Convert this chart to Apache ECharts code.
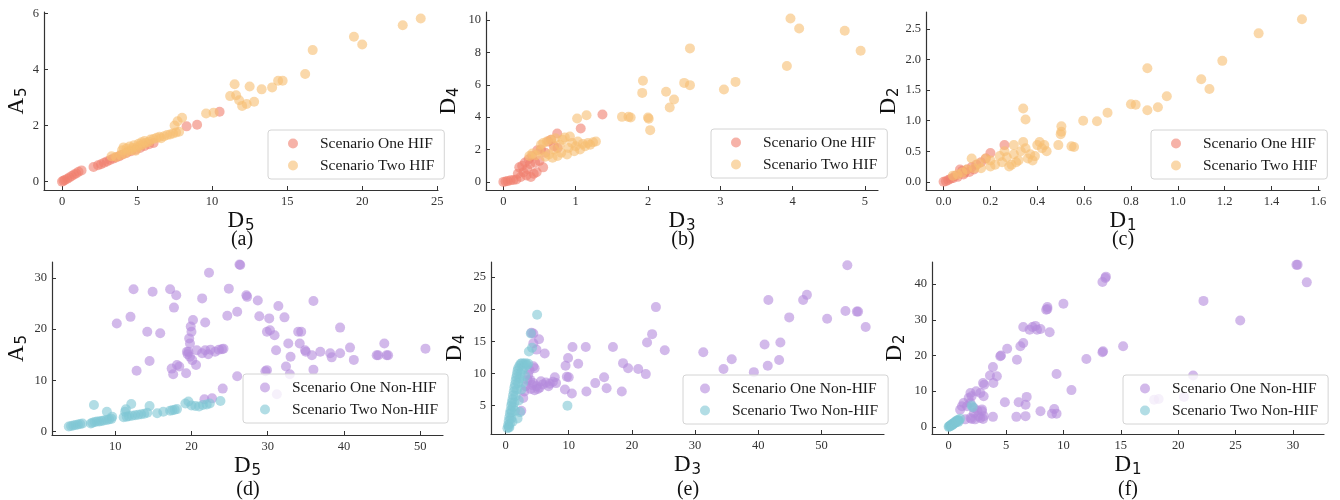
<!DOCTYPE html>
<html>
<head>
<meta charset="utf-8">
<script src="https://cdn.jsdelivr.net/npm/echarts@6/dist/echarts.min.js"></script>
<style>
  html, body { margin: 0; padding: 0; background: #fff; }
  #chart { width: 1340px; height: 500px; }
</style>
</head>
<body>
<div id="chart"></div>
<script>
// ---- data: [x, y] pairs per scenario ----

// (a) D5 vs A5, HIF
const aOneHIF = [[0,0],[0.1,0.03],[0.2,0.06],[0.35,0.1],[0.5,0.15],[0.65,0.2],[0.8,0.25],[0.95,0.29],[1.1,0.35],[1.3,0.4],
  [2.1,0.52],[2.4,0.58],[2.6,0.62],[2.8,0.67],[3.0,0.72],[3.2,0.77],[3.4,0.82],[3.6,0.86],[3.8,0.9],[4.0,0.96],
  [4.3,1.02],[4.6,1.08],[4.9,1.14],[5.2,1.2],[5.5,1.27],[5.8,1.33],[6.1,1.38],[8.3,1.97],[9.0,2.03],[10.5,2.49]];
const aTwoHIF = [[3.3,0.9],[3.6,0.88],[3.9,0.95],[4.0,1.12],[4.1,1.22],[4.2,1.0],[4.3,1.18],[4.4,1.08],[4.5,1.25],[4.6,1.12],
  [4.7,1.2],[4.8,1.3],[4.9,1.1],[5.0,1.22],[5.1,1.35],[5.2,1.28],[5.3,1.4],[5.4,1.32],[5.5,1.45],[5.6,1.38],
  [5.8,1.42],[5.9,1.5],[6.1,1.52],[6.3,1.56],[6.5,1.6],[6.6,1.55],[6.8,1.62],[7.0,1.66],[7.2,1.68],[7.4,1.72],
  [7.6,1.75],[7.8,1.78],[7.5,2.0],[7.7,2.15],[8.0,2.28],[9.6,2.43],[10.1,2.46],
  [11.2,3.05],[11.5,3.47],[11.6,3.08],[11.8,2.9],[12.0,2.7],[12.3,2.77],[12.5,3.39],[12.8,2.85],[13.3,3.29],
  [14.0,3.36],[14.4,3.6],[14.7,3.6],[16.2,3.84],[16.7,4.69],[19.45,5.17],[20.0,4.89],[22.7,5.58],[23.9,5.82]];

// (b) D3 vs D4, HIF
const bOneHIF = [[0,0],[0.03,0.02],[0.06,0.05],[0.1,0.1],[0.14,0.12],[0.18,0.15],[0.2,0.5],[0.22,0.9],[0.24,0.3],[0.26,1.0],
  [0.28,0.6],[0.3,1.2],[0.32,0.4],[0.33,0.8],[0.35,1.4],[0.37,1.1],[0.38,0.3],[0.4,1.6],[0.42,0.5],[0.44,1.2],
  [0.46,0.6],[0.47,1.96],[0.5,1.3],[0.52,2.0],[0.55,0.9],[0.58,1.8],[0.62,2.5],[0.66,2.6],[0.7,2.2],[0.745,2.99],
  [0.75,2.1],[1.07,3.3],[1.37,4.17]];
const bTwoHIF = [[0.36,1.6],[0.4,1.75],[0.45,1.65],[0.5,1.9],[0.52,2.3],[0.55,2.4],[0.58,1.55],[0.6,2.5],[0.63,1.7],[0.66,2.6],
  [0.68,1.5],[0.7,2.0],[0.72,2.7],[0.75,1.6],[0.78,2.3],[0.8,1.8],[0.82,2.6],[0.85,2.75],[0.88,1.7],[0.9,2.1],
  [0.92,2.8],[0.95,2.4],[0.98,1.9],[1.0,2.2],[1.03,2.5],[1.06,2.0],[1.1,2.35],[1.13,2.2],[1.17,2.4],[1.2,2.3],
  [1.24,2.45],[1.28,2.5],[1.02,3.92],[1.15,4.12],
  [1.64,4.02],[1.73,4.02],[1.76,3.98],[1.92,5.5],[1.93,6.25],[2.0,3.98],[2.01,3.9],[2.03,3.2],[2.25,5.57],[2.3,4.6],
  [2.36,5.09],[2.5,6.12],[2.58,5.98],[2.58,8.25],[3.05,5.71],[3.21,6.18],[3.92,7.16],[3.97,10.1],[4.09,9.48],[4.72,9.34],[4.94,8.1]];

// (c) D1 vs D2, HIF
const cOneHIF = [[0,0],[0.01,0.01],[0.02,0.03],[0.03,0.05],[0.04,0.06],[0.05,0.1],[0.06,0.08],[0.07,0.2],[0.08,0.18],[0.085,0.12],
  [0.09,0.15],[0.1,0.2],[0.11,0.16],[0.12,0.24],[0.13,0.2],[0.14,0.28],[0.16,0.32],[0.18,0.38],[0.2,0.47],[0.26,0.6]];
const cTwoHIF = [[0.04,0.1],[0.06,0.12],[0.08,0.15],[0.1,0.2],[0.12,0.38],[0.13,0.22],[0.15,0.3],[0.16,0.22],[0.18,0.38],[0.2,0.35],
  [0.2,0.25],[0.22,0.28],[0.24,0.42],[0.25,0.32],[0.26,0.5],[0.27,0.4],[0.28,0.25],[0.29,0.28],[0.3,0.45],[0.3,0.6],
  [0.31,0.32],[0.32,0.35],[0.33,0.5],[0.34,0.65],[0.35,0.55],[0.36,0.38],[0.37,0.45],[0.38,0.35],[0.39,0.42],[0.4,0.6],
  [0.41,0.65],[0.42,0.55],[0.43,0.6],[0.44,0.5],
  [0.34,1.2],[0.35,1.02],[0.49,0.6],[0.5,0.78],[0.503,0.82],[0.503,0.91],[0.546,0.58],[0.557,0.57],[0.596,1.0],[0.655,0.99],
  [0.7,1.13],[0.8,1.27],[0.82,1.26],[0.87,1.17],[0.87,1.86],[0.915,1.22],[0.953,1.4],[1.1,1.68],[1.135,1.52],[1.19,1.98],
  [1.345,2.43],[1.53,2.66]];

// (d) D5 vs A5, Non-HIF
const dOneNon = [[26.4,32.5],[26.3,32.6],[22.3,31.0],[12.4,27.8],[14.9,27.3],[17.2,27.8],[18.0,26.6],[17.7,24.2],[21.4,26.0],[24.9,27.9],
  [27.2,26.6],[27.3,26.3],[28.7,25.6],[26.0,23.4],[24.7,22.6],[28.9,22.5],[30.2,22.1],[31.4,24.5],[32.2,22.3],[36.0,25.5],
  [10.2,21.1],[12.0,22.4],[14.2,19.5],[15.9,19.2],[20.2,21.8],[21.8,21.3],[19.9,20.5],[20.0,19.5],[19.7,18.2],[19.8,17.2],
  [19.6,15.6],[19.5,15.1],[19.8,14.6],[20.1,13.96],[20.6,13.0],[19.4,15.6],[20.7,15.9],[21.4,15.3],[21.8,15.9],[22.2,15.1],
  [22.5,16.0],[23.1,15.6],[23.6,16.0],[24.0,16.1],[24.2,16.2],[12.8,11.9],[14.5,13.8],[17.4,12.3],[18.1,13.0],[18.4,12.7],
  [17.6,11.2],[19.3,11.4],[26.0,10.8],[24.1,8.4],[21.7,6.3],[22.7,6.5],[29.7,11.8],[29.9,12.0],[29.9,19.5],[30.3,19.8],
  [30.9,18.8],[31.1,15.9],[32.7,17.2],[33.0,14.6],[32.4,12.7],[32.9,11.2],[34.0,19.5],[34.4,19.5],[34.2,17.2],[34.9,15.9],
  [35.0,15.6],[35.8,14.9],[36.0,12.1],[36.9,15.6],[38.2,15.3],[38.4,14.5],[39.5,15.3],[39.5,20.3],[40.8,16.4],[41.3,14.0],
  [44.3,14.9],[44.5,14.9],[45.3,17.2],[45.6,14.9],[45.8,14.9],[50.7,16.2],[31.2,7.3]];
const dTwoNon = [[3.9,1.0],[4.2,1.1],[4.5,1.2],[4.8,1.3],[5.1,1.4],[5.4,1.5],[5.7,1.6],[6.8,1.6],[7.0,1.75],[7.2,5.2],
  [7.3,1.9],[7.6,2.0],[7.9,2.0],[8.2,2.1],[8.5,2.2],[8.9,3.9],[8.9,2.3],[9.2,2.4],[9.5,2.5],[9.6,2.9],
  [11.1,2.8],[11.3,3.9],[11.4,4.35],[11.5,2.9],[11.8,3.0],[12.1,5.4],[12.2,3.1],[12.6,3.2],[13.0,3.3],[13.4,3.4],
  [13.8,3.5],[14.2,3.7],[14.5,5.0],[15.5,3.6],[16.3,3.9],[17.2,4.1],[17.5,4.2],[17.8,4.3],[18.1,4.4],[19.2,5.5],
  [19.6,5.9],[20.0,5.1],[20.5,5.0],[21.0,4.9],[21.5,5.2],[22.0,5.3],[22.4,5.5],[23.8,6.0]];

// (e) D3 vs D4, Non-HIF
const eOneNon = [[54.1,26.8],[23.8,20.3],[47.1,21.4],[47.7,22.2],[41.6,21.4],[44.9,18.7],[50.9,18.5],[53.8,19.7],[55.6,19.6],[55.8,19.6],
  [57.0,17.2],[41.0,14.5],[43.5,14.8],[43.3,12.1],[41.5,11.2],[39.3,10.2],[35.8,12.2],[34.5,10.7],[31.3,13.3],[25.2,13.6],
  [23.2,16.1],[22.4,14.8],[22.2,9.9],[21.0,10.7],[19.4,10.8],[18.6,11.6],[17.0,14.1],[18.4,7.2],[16.0,7.7],[15.6,9.4],
  [14.2,8.5],[12.7,14.1],[12.8,7.2],[11.5,11.5],[10.6,14.1],[10.5,6.9],[9.9,12.4],[9.5,11.2],[9.7,9.5],[10.0,9.4],
  [9.4,7.5],[7.8,9.4],[8.0,8.5],[3.9,9.0],[4.4,8.5],[4.9,8.0],[5.4,7.8],[5.9,8.3],[6.4,8.6],[7.0,8.4],
  [4.0,7.6],[4.6,7.4],[5.1,7.6],[3.6,9.8],[5.3,15.3],[4.9,13.7],[6.2,13.1],[4.4,16.2],[4.1,16.3],[4.4,14.7],
  [4.4,11.1],[4.6,10.8],[3.8,10.5],[3.5,9.0],[3.2,8.0],[4.2,8.2],[3.0,7.2],[2.8,6.2],[2.5,4.2],[6.8,8.0],
  [7.5,8.7],[5.6,8.8]];
const eTwoNon = [[0.3,1.5],[0.4,2.0],[0.5,1.7],[0.5,2.6],[0.6,3.2],[0.7,2.2],[0.7,3.8],[0.8,4.3],[0.9,3.0],[0.9,5.0],
  [1.0,4.0],[1.0,5.5],[1.1,6.0],[1.2,4.8],[1.2,6.6],[1.3,7.2],[1.4,5.5],[1.4,7.8],[1.5,8.3],[1.6,6.5],
  [1.6,8.9],[1.7,9.4],[1.8,7.5],[1.8,9.9],[1.9,10.4],[2.0,8.5],[2.0,10.8],[2.2,11.2],[2.2,9.2],[2.4,11.5],
  [2.4,10.0],[2.6,11.6],[2.7,10.6],[2.9,11.5],[3.0,11.0],[3.2,11.6],[3.4,11.3],[3.6,11.5],[2.1,5.8],[1.5,4.2],
  [2.5,7.5],[2.8,8.6],[3.1,9.6],[2.3,4.0],[1.9,3.0],[1.1,2.5],[0.6,1.6],[3.7,13.4],[4.0,16.2],[4.2,14.0],
  [5.0,19.1],[9.8,5.0]];

// (f) D1 vs D2, Non-HIF
const fOneNon = [[30.3,45.4],[30.4,45.4],[31.2,40.5],[13.7,42.1],[13.65,41.7],[13.4,40.6],[10.0,34.5],[8.6,33.6],[8.6,33.0],[8.5,32.8],
  [22.2,35.3],[25.4,29.8],[6.5,28.0],[7.3,28.0],[7.55,28.3],[7.7,27.2],[7.05,27.2],[8.0,27.4],[8.8,26.5],[6.5,23.5],
  [6.25,22.6],[5.1,21.9],[4.56,20.0],[4.5,19.8],[5.95,18.8],[3.86,16.8],[3.6,14.4],[4.2,14.2],[3.9,12.3],[3.0,12.3],
  [3.1,11.8],[2.4,10.0],[2.76,9.5],[3.05,8.6],[1.9,9.5],[2.0,8.6],[1.74,8.1],[1.3,6.7],[1.0,4.8],[1.16,5.8],
  [1.6,5.8],[1.9,6.7],[2.2,5.3],[2.9,4.4],[2.76,2.5],[2.3,2.1],[2.6,3.0],[3.05,3.0],[2.2,3.9],[1.9,2.5],
  [1.45,2.1],[3.86,2.8],[4.9,6.9],[5.9,2.8],[6.1,6.9],[6.7,6.2],[6.8,8.4],[6.7,3.0],[8.0,4.4],[9.0,3.7],
  [9.4,3.7],[9.2,5.0],[9.4,14.8],[10.7,10.3],[12.0,19.0],[13.4,20.9],[13.45,21.2],[15.2,22.6],[21.3,14.4],[17.9,7.6],
  [18.3,7.8],[20.5,8.4],[2.9,4.9],[2.5,4.6],[3.0,2.2],[2.0,2.2]];
const fTwoNon = [[0,0],[0.05,0.1],[0.1,0.3],[0.15,0.2],[0.2,0.5],[0.25,0.4],[0.3,0.8],[0.35,0.6],[0.4,1.0],[0.45,0.9],
  [0.5,1.2],[0.55,1.1],[0.6,1.5],[0.65,1.3],[0.7,1.7],[0.75,1.5],[0.8,1.9],[0.9,1.8],[1.0,2.3],[0.85,1.4],
  [2.0,6.0],[2.1,5.5]];

// tick values per panel
const aXTicks = [0, 5, 10, 15, 20, 25], aYTicks = [0, 2, 4, 6];
const bXTicks = [0, 1, 2, 3, 4, 5], bYTicks = [0, 2, 4, 6, 8, 10];
const cXTicks = [0, 0.2, 0.4, 0.6, 0.8, 1.0, 1.2, 1.4, 1.6], cYTicks = [0, 0.5, 1.0, 1.5, 2.0, 2.5];
const dXTicks = [10, 20, 30, 40, 50], dYTicks = [0, 10, 20, 30];
const eXTicks = [0, 10, 20, 30, 40, 50], eYTicks = [5, 10, 15, 20, 25];
const fXTicks = [0, 5, 10, 15, 20, 25, 30], fYTicks = [0, 10, 20, 30, 40];

const SERIF = '"Liberation Serif", "Times New Roman", serif';
const axisColor = '#333';
const colors = {
  'Scenario One HIF': '#F07F6E',
  'Scenario Two HIF': '#F7BE72',
  'Scenario One Non-HIF': '#B48BDC',
  'Scenario Two Non-HIF': '#7FC6D3'
};

const nameRich = {
  m: { fontFamily: SERIF, fontSize: 23, color: '#111', lineHeight: 24, verticalAlign: 'top' },
  s: { fontFamily: 'DejaVu Sans', fontSize: 15, color: '#111', lineHeight: 15, padding: [10, 0, 0, 1], verticalAlign: 'top' }
};

function sub(letter, digit) {
  return '{m|' + letter + '}{s|' + digit + '}';
}

// panel layout: grid box in px, axis ranges from the figure
const panels = [
  { grid: [44, 12, 394, 178], x: [-1.2, 25.05], y: [-0.3, 6.05], xt: aXTicks, yt: aYTicks, dec: 0,
    xn: sub('D', 5), yn: sub('A', 5), ygap: 15, legend: [268, 130, 20], cap: '(a)', cx: 242, cy: 240,
    s: [['Scenario One HIF', aOneHIF], ['Scenario Two HIF', aTwoHIF]] },
  { grid: [486, 12, 392, 178], x: [-0.24, 5.18], y: [-0.5, 10.5], xt: bXTicks, yt: bYTicks, dec: 0,
    xn: sub('D', 3), yn: sub('D', 4), ygap: 25, legend: [711, 129, 20], cap: '(b)', cx: 683, cy: 240,
    s: [['Scenario One HIF', bOneHIF], ['Scenario Two HIF', bTwoHIF]] },
  { grid: [926, 12, 394, 178], x: [-0.075, 1.607], y: [-0.135, 2.78], xt: cXTicks, yt: cYTicks, dec: 1,
    xn: sub('D', 1), yn: sub('D', 2), ygap: 25, legend: [1151, 130, 20], cap: '(c)', cx: 1123, cy: 240,
    s: [['Scenario One HIF', cOneHIF], ['Scenario Two HIF', cTwoHIF]] },
  { grid: [52, 262, 391, 173], x: [1.7, 53.0], y: [-0.65, 33.1], xt: dXTicks, yt: dYTicks, dec: 0,
    xn: sub('D', 5), yn: sub('A', 5), ygap: 23, legend: [243, 374, 17], cap: '(d)', cx: 248, cy: 490,
    s: [['Scenario One Non-HIF', dOneNon], ['Scenario Two Non-HIF', dTwoNon]] },
  { grid: [491, 262, 393, 172], x: [-2.3, 59.9], y: [0.6, 27.3], xt: eXTicks, yt: eYTicks, dec: 0,
    xn: sub('D', 3), yn: sub('D', 4), ygap: 24, legend: [683, 375, 17], cap: '(e)', cx: 688, cy: 490,
    s: [['Scenario One Non-HIF', eOneNon], ['Scenario Two Non-HIF', eTwoNon]] },
  { grid: [932, 262, 392, 172], x: [-1.45, 32.7], y: [-2.0, 46.2], xt: fXTicks, yt: fYTicks, dec: 0,
    xn: sub('D', 1), yn: sub('D', 2), ygap: 25, legend: [1123, 375, 17], cap: '(f)', cx: 1128, cy: 490,
    s: [['Scenario One Non-HIF', fOneNon], ['Scenario Two Non-HIF', fTwoNon]] }
];

function axisBase(i, range, ticks, dec, name, gap) {
  return {
    type: 'value',
    gridIndex: i,
    min: range[0],
    max: range[1],
    name: name,
    nameLocation: 'middle',
    nameGap: gap,
    nameMoveOverlap: false,
    nameTextStyle: { rich: nameRich },
    axisLine: { show: true, onZero: false, lineStyle: { color: axisColor, width: 1.2 } },
    axisTick: { show: true, inside: true, length: 4, customValues: ticks, lineStyle: { color: axisColor, width: 1 } },
    axisLabel: {
      customValues: ticks,
      margin: 5,
      fontFamily: SERIF,
      fontSize: 12.5,
      color: '#333',
      formatter: v => v.toFixed(dec)
    },
    splitLine: { show: false }
  };
}

const option = {
  backgroundColor: '#fff',
  animation: false,
  grid: [], xAxis: [], yAxis: [], series: [], legend: [], graphic: []
};

panels.forEach((p, i) => {
  option.grid.push({ left: p.grid[0], top: p.grid[1], width: p.grid[2], height: p.grid[3], outerBoundsMode: 'none' });
  option.xAxis.push(axisBase(i, p.x, p.xt, p.dec, p.xn, 19));
  const ya = axisBase(i, p.y, p.yt, p.dec, p.yn, p.ygap);
  ya.nameRotate = 90;
  option.yAxis.push(ya);
  p.s.forEach(([name, data]) => {
    option.series.push({
      type: 'scatter',
      name: name,
      xAxisIndex: i,
      yAxisIndex: i,
      data: data,
      symbol: 'circle',
      symbolSize: 10,
      itemStyle: { color: colors[name], opacity: 0.6 },
      emphasis: { disabled: true }
    });
  });
  option.legend.push({
    data: p.s.map(s => s[0]),
    orient: 'vertical',
    left: p.legend[0],
    top: p.legend[1],
    icon: 'circle',
    itemWidth: 10,
    itemHeight: 10,
    itemGap: 5,
    padding: [5, 10, 5, p.legend[2]],
    backgroundColor: 'rgba(255,255,255,0.8)',
    borderColor: '#d4d4d4',
    borderWidth: 1,
    borderRadius: 3,
    selectedMode: false,
    textStyle: { fontFamily: SERIF, fontSize: 15.5, color: '#1a1a1a', lineHeight: 17, padding: [0, 0, 0, 17] }
  });
  option.graphic.push({
    type: 'text',
    x: p.cx,
    y: p.cy,
    style: {
      text: p.cap,
      font: '20px "Liberation Serif", serif',
      fill: '#111',
      align: 'center',
      verticalAlign: 'middle',
      textAlign: 'center',
      textVerticalAlign: 'middle'
    }
  });
});

const chart = echarts.init(document.getElementById('chart'), null, { renderer: 'canvas' });
chart.setOption(option);
</script>
</body>
</html>
